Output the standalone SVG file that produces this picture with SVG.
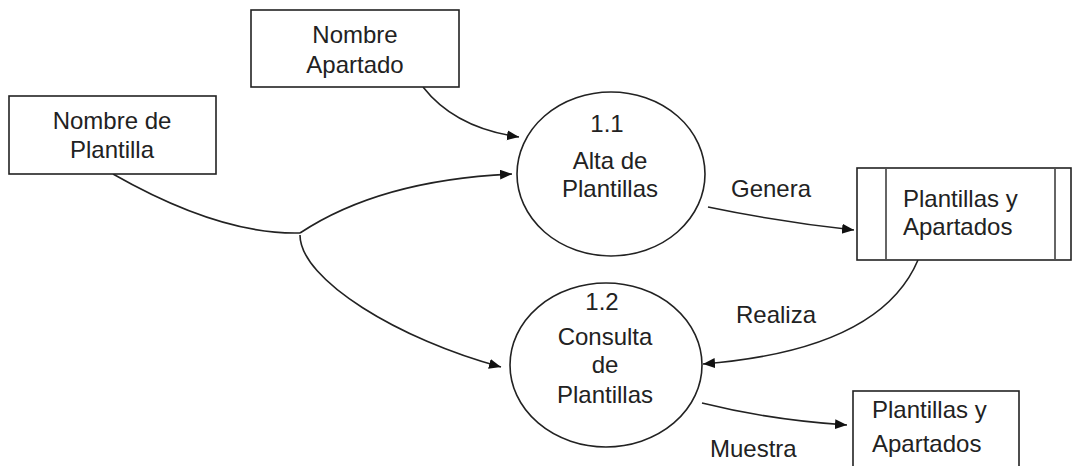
<svg xmlns="http://www.w3.org/2000/svg" width="1073" height="466" viewBox="0 0 1073 466">
<style>
.box{fill:#fff;stroke:#222;stroke-width:1.6}
.proc{fill:#fff;stroke:#222;stroke-width:1.6}
.sep{stroke:#666;stroke-width:2}
.t{font-family:"Liberation Sans",Arial,sans-serif;font-size:24px;fill:#222}
.c{text-anchor:middle}
.flow{fill:none;stroke:#222;stroke-width:1.6;marker-end:url(#arr)}
.line{fill:none;stroke:#222;stroke-width:1.6}
</style>
<defs>
<marker id="arr" markerUnits="userSpaceOnUse" markerWidth="14" markerHeight="12" refX="12" refY="5" orient="auto">
<path d="M0,0 L12,5 L0,10 z" fill="#111"/>
</marker>
</defs>
<rect width="1073" height="466" fill="#fff"/>
<g id="connectors">
<path class="flow" d="M423,87 Q455,128 519,137"/>
<path class="line" d="M113,174 Q220,235 300,233"/>
<path class="flow" d="M300,233 Q380,180 512,174"/>
<path class="flow" d="M300,235 C300,280 400,340 501,367"/>
<path class="flow" d="M708,207 Q780,222 854,230"/>
<path class="flow" d="M918,260 Q880,350 703,364"/>
<path class="flow" d="M702,403 Q770,420 847,425"/>
</g>
<g id="nombre-apartado">
<rect class="box" x="251" y="10" width="208" height="77"/>
<text class="t c" x="355" y="43">Nombre</text>
<text class="t c" x="355" y="73">Apartado</text>
</g>
<g id="nombre-plantilla">
<rect class="box" x="9" y="96" width="207" height="78"/>
<text class="t c" x="112" y="129">Nombre de</text>
<text class="t c" x="112" y="158">Plantilla</text>
</g>
<g id="proc-1-1">
<ellipse class="proc" cx="611" cy="174" rx="94" ry="82"/>
<text class="t c" x="607" y="132">1.1</text>
<text class="t c" x="610" y="169">Alta de</text>
<text class="t c" x="610" y="197">Plantillas</text>
</g>
<g id="proc-1-2">
<ellipse class="proc" cx="606" cy="365" rx="96" ry="82"/>
<text class="t c" x="602" y="310">1.2</text>
<text class="t c" x="605" y="345">Consulta</text>
<text class="t c" x="605" y="373">de</text>
<text class="t c" x="605" y="403">Plantillas</text>
</g>
<g id="store">
<rect class="box" x="857" y="168" width="214" height="92"/>
<line class="sep" x1="886" y1="169" x2="886" y2="259"/>
<line class="sep" x1="1055" y1="169" x2="1055" y2="259"/>
<text class="t" x="903" y="207">Plantillas y</text>
<text class="t" x="903" y="235">Apartados</text>
</g>
<g id="output">
<rect class="box" x="853" y="391" width="166" height="90"/>
<text class="t" x="872" y="418">Plantillas y</text>
<text class="t" x="872" y="452">Apartados</text>
</g>
<g id="labels">
<text class="t" x="731" y="197">Genera</text>
<text class="t" x="736" y="323">Realiza</text>
<text class="t" x="710" y="457">Muestra</text>
</g>
</svg>
